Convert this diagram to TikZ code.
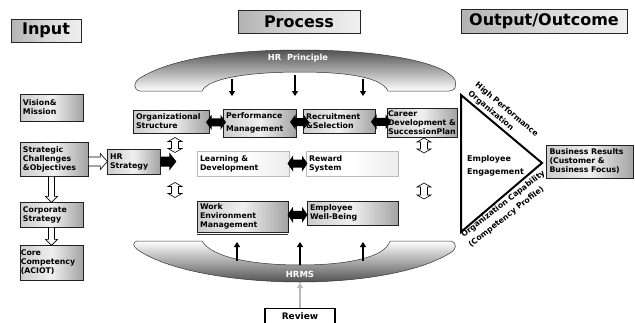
\documentclass[tikz,border=0pt]{standalone}
\usepackage{fontspec}
\setmainfont{DejaVu Sans}
\usetikzlibrary{calc,shadows,arrows.meta}

\tikzset{
  % block arrow pointing along +x, starting at the origin:
  % #1 length, #2 half shaft width, #3 half head width, #4 head length
  pics/sarrow/.style n args={4}{code={
    \path[pic actions] (0,-#2) -- (#1-#4,-#2) -- (#1-#4,-#3) -- (#1,0)
      -- (#1-#4,#3) -- (#1-#4,#2) -- (0,#2) -- cycle;}},
  % double block arrow centred on the origin
  pics/dblarrow/.style n args={4}{code={
    \path[pic actions] (-#1/2,0) -- (-#1/2+#4,#3) -- (-#1/2+#4,#2)
      -- (#1/2-#4,#2) -- (#1/2-#4,#3) -- (#1/2,0) -- (#1/2-#4,-#3)
      -- (#1/2-#4,-#2) -- (-#1/2+#4,-#2) -- (-#1/2+#4,-#3) -- cycle;}},
}

\begin{document}
\begin{tikzpicture}[x=1pt,y=-1pt,
  boxfont/.style={font=\bfseries\fontsize{7.8}{9}\selectfont},
  softshadow/.style={drop shadow={shadow xshift=1.3pt,shadow yshift=-1.3pt,fill=gray!55,opacity=0.8}},
  gbox/.style={boxfont, draw=gray!25!black, line width=0.7pt,
    left color=gray!40, right color=gray!72, middle color=white!88!gray,
    softshadow, align=left, inner xsep=3pt, inner ysep=1pt, text=black},
  wbox/.style={boxfont, draw=gray!55, line width=0.6pt,
    left color=white, right color=gray!15, middle color=white,
    align=left, inner xsep=3pt, inner ysep=1pt, text=black},
  titlebox/.style={font=\bfseries\fontsize{16}{18}\selectfont,
    draw=gray!30!black, line width=0.6pt, left color=gray!60, right color=gray!12,
    middle color=gray!30, softshadow, inner sep=0pt, text=black},
  thinarr/.style={line width=1.4pt, -{Triangle[length=5pt,width=6pt]}},
  solidarr/.style={fill=black},
  hollowarr/.style={draw=black, line width=0.6pt, fill=white},
]
\useasboundingbox (0,0) rectangle (635,322);
\fill[white] (0,0) rectangle (635,322);

% ---------- column headings ----------
\node[titlebox, minimum width=70pt, minimum height=23pt] (tin)  at (46,30.5) {Input};
\node[titlebox, minimum width=122pt, minimum height=23pt] (tpro) at (299,21.5) {Process};
\node[titlebox, minimum width=166pt, minimum height=24pt] (tout) at (544,21) {Output/Outcome};

% ---------- HR Principle band ----------
\path[draw=gray!40!black, line width=0.5pt, top color=gray!65!black, bottom color=white]
  (140,91) .. controls (133,90) and (133,82) .. (140,78)
  .. controls (172,58) and (232,50) .. (300,50)
  .. controls (380,50) and (445,62) .. (455,80)
  .. controls (457,86) and (455,91) .. (449,91)
  -- (388,91) .. controls (382,78) and (350,72) .. (300,72)
  .. controls (250,72) and (208,78) .. (202,91) -- cycle;
\node[font=\bfseries\fontsize{8.3}{10}\selectfont, text=white] (hrp) at (298,58) {HR~ Principle};

% ---------- HRMS band ----------
\path[draw=gray!40!black, line width=0.5pt, top color=white, bottom color=gray!65!black]
  (137,241) -- (202,241) .. controls (212,258) and (255,265) .. (300,265)
  .. controls (345,265) and (385,258) .. (390,241) -- (451,241)
  .. controls (457,242) and (457,250) .. (450,253)
  .. controls (420,272) and (360,282) .. (300,282)
  .. controls (240,282) and (170,272) .. (138,250)
  .. controls (133,247) and (132,242) .. cycle;
\node[font=\bfseries\fontsize{8.5}{10}\selectfont, text=white] (hrms) at (300,274) {HRMS};

% ---------- input column ----------
\node[gbox, text width=57pt, minimum height=27pt] (vis) at (51.5,107.5) {Vision\&\\Mission};
\node[gbox, text width=62pt, minimum height=34pt] (strat) at (54,159) {Strategic\\Challenges\\\&Objectives};
\node[gbox, text width=57pt, minimum height=25pt] (corp) at (51.5,214.5) {Corporate\\Strategy};
\node[gbox, inner xsep=0.8pt, text width=61.4pt, minimum height=35pt] (core) at (51.5,262.5) {Core\\Competency\\(ACIOT)};

\node[gbox, text width=47pt, minimum height=25pt] (hrs) at (133.5,161.5) {HR\\Strategy};

% ---------- process boxes ----------
\node[gbox, text width=70pt, minimum height=23pt] (org)  at (171,121.5) {Organizational\\Structure};
\node[gbox, text width=67pt, minimum height=28pt] (perf) at (259.5,123) {Performance\\[3.5pt]Management};
\node[gbox, text width=66pt, minimum height=24pt] (recr) at (339,121) {Recruitment\\\&Selection};
\node[gbox, inner xsep=1pt, text width=68pt, minimum height=29pt] (car) at (422,122.5) {Career\\Development \&\\SuccessionPlan};

\node[wbox, text width=86pt, minimum height=25pt] (learn) at (243,163.5) {Learning \&\\Development};
\node[wbox, text width=86pt, minimum height=25pt] (rew)   at (352,163.5) {Reward\\System};

\node[gbox, text width=85pt, minimum height=31pt] (work) at (242.5,216.5) {Work\\Environment\\Management};
\node[gbox, text width=85pt, minimum height=24pt] (emp)  at (352.5,213) {Employee\\Well-Being};
\draw[gray!40!black, line width=0.8pt] ([yshift=-2pt]work.south west) -- ([yshift=-2pt]work.south east);

% ---------- block arrows ----------
\pic[solidarr] at ($(org.east)!0.5!(perf.west)$) {dblarrow={20}{4}{7.5}{5.5}};
\pic[solidarr] at ($(perf.east)!0.5!(recr.west)$) {dblarrow={19}{4}{7.5}{5.5}};
\pic[solidarr] at ($(recr.east)!0.5!(car.west)$) {dblarrow={20}{4}{7.5}{5.5}};
\pic[solidarr] at ($(learn.east)!0.5!(rew.west)$) {dblarrow={20}{4}{8}{5.5}};
\pic[solidarr] at ($(work.east)!0.5!(emp.west)$) {dblarrow={20}{4}{8}{5.5}};
\pic[solidarr] at (hrs.east) {sarrow={16}{5}{9}{7}};

\pic[hollowarr] at (strat.east |- hrs.west) {sarrow={19}{4.5}{8}{7}};
\pic[hollowarr, rotate=-90] at (corp.north |- strat.south) {sarrow={26}{3}{6}{6}};
\pic[hollowarr, rotate=-90] at (corp.south) {sarrow={18}{3}{6}{6}};

\pic[hollowarr, rotate=90] at (175,145) {dblarrow={15}{3.5}{7}{4}};
\pic[hollowarr, rotate=90] at (175,190) {dblarrow={15}{3.5}{7}{4}};
\pic[hollowarr, rotate=90] at (424,145.5) {dblarrow={15}{3.5}{7}{4}};
\pic[hollowarr, rotate=90] at (424,191) {dblarrow={16}{3.5}{7}{4}};

% ---------- principle and system arrows ----------
\coordinate (d1s) at (232,79); \coordinate (d1e) at (232,96);
\coordinate (d2s) at (295,75); \coordinate (d2e) at (295,96);
\coordinate (d3s) at (363,79); \coordinate (d3e) at (363,96);
\draw[thinarr] (d1s) -- (d1e);
\draw[thinarr] (d2s) -- (d2e);
\draw[thinarr] (d3s) -- (d3e);

\coordinate (u1s) at (237,261); \coordinate (u1e) at (237,242);
\coordinate (u2s) at (300,265); \coordinate (u2e) at (300,242);
\coordinate (u3s) at (363,261); \coordinate (u3e) at (363,242);
\draw[thinarr] (u1s) -- (u1e);
\draw[thinarr] (u2s) -- (u2e);
\draw[thinarr] (u3s) -- (u3e);

% ---------- review ----------
\node[draw=black, line width=1.2pt, fill=white, font=\bfseries\fontsize{9}{11}\selectfont,
      minimum width=70pt, minimum height=16pt, anchor=north, inner sep=0pt] (rev) at (300,308) {Review};
\coordinate (hrmsbot) at (300,283);
\draw[line width=1.4pt, gray!55, -{Triangle[length=5pt,width=6pt]}] (rev.north) -- (hrmsbot);

% ---------- outcome triangle ----------
\coordinate (ta) at (461,95);
\coordinate (tb) at (461,232);
\coordinate (tc) at (542,163);
\draw[line width=2pt, line join=miter] (ta) -- (tc) -- (tb) -- cycle;

\node[boxfont, rotate=-40, align=left, inner sep=0pt] (hpo) at (503,114)
  {High Performance\\[2pt]Organization};
\node[boxfont, rotate=38, align=left, inner sep=0pt] (ocap) at (507,209)
  {Organization Capability\\[3pt](Competency Profile)};
\node[font=\bfseries\fontsize{8}{13}\selectfont, align=left, anchor=west, inner sep=0pt] (eng) at (467,165.5)
  {Employee\\Engagement};

\node[gbox, inner xsep=3.5pt, text width=80pt, minimum height=33pt] (bus) at (589.5,161.5)
  {Business Results\\(Customer \&\\Business Focus)};

\end{tikzpicture}
\end{document}
